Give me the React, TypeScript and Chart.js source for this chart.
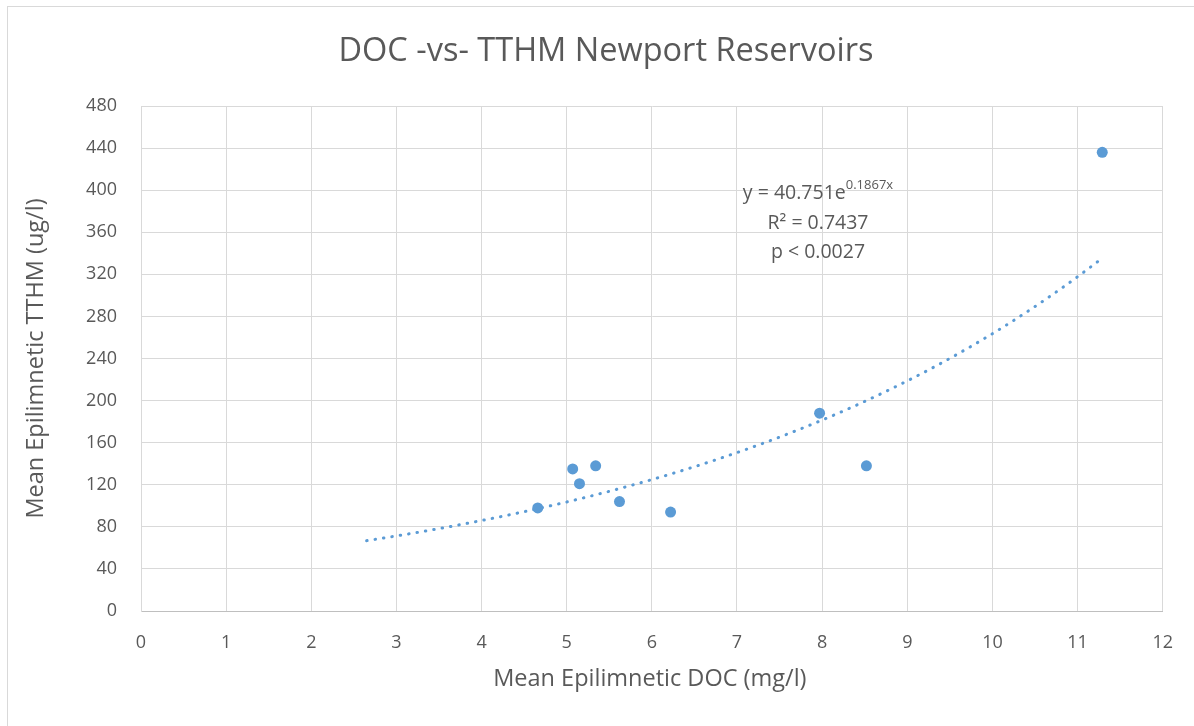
import React, { useEffect, useRef } from 'react';
import { Chart, registerables } from 'chart.js';

Chart.register(...registerables);

// ---- Data ----
const docValues = [4.66, 5.07, 5.15, 5.34, 5.62, 6.22, 7.97, 8.52, 11.29];
const tthmValues = [98, 135, 121, 138, 104, 94, 188, 138, 436];

// Exponential trendline shown on the chart: y = 40.751 e^(0.1867 x)
const trendA = 40.751;
const trendB = 0.1867;
const trendStartX = 2.65;
const trendEndX = 11.29;

const xMin = 0;
const xMax = 12;
const xStep = 1;
const yMin = 0;
const yMax = 480;
const yStep = 40;

const titleText = 'DOC -vs- TTHM Newport Reservoirs';
const xAxisTitle = 'Mean Epilimnetic DOC (mg/l)';
const yAxisTitle = 'Mean Epilimnetic TTHM (ug/l)';
const eqMain = 'y = 40.751e';
const eqSup = '0.1867x';
const r2Text = 'R² = 0.7437';
const pText = 'p < 0.0027';

const FONT = '"Open Sans", "Liberation Sans", sans-serif';
const TEXT_COLOR = '#595959';
const BLUE = '#5b9bd5';

function trendPoints() {
  const pts: { x: number; y: number }[] = [];
  const n = 120;
  for (let i = 0; i <= n; i++) {
    const x = trendStartX + ((trendEndX - trendStartX) * i) / n;
    pts.push({ x, y: trendA * Math.exp(trendB * x) });
  }
  return pts;
}

const decorPlugin = {
  id: 'decor',
  beforeDraw(chart: any) {
    const ctx = chart.ctx;
    ctx.save();
    ctx.fillStyle = '#ffffff';
    ctx.fillRect(0, 0, chart.width, chart.height);
    ctx.strokeStyle = '#d9d9d9';
    ctx.lineWidth = 1;
    ctx.strokeRect(7.5, 6.5, chart.width + 10, chart.height + 10);
    ctx.restore();
  },
  afterDraw(chart: any) {
    const ctx = chart.ctx;
    const xs = chart.scales.x;
    const ys = chart.scales.y;
    ctx.save();
    ctx.fillStyle = TEXT_COLOR;
    ctx.textBaseline = 'middle';
    ctx.textAlign = 'center';
    // Title
    ctx.font = `32.5px ${FONT}`;
    ctx.fillText(titleText, 606, 52);
    // X axis title
    ctx.font = `23.5px ${FONT}`;
    ctx.fillText(xAxisTitle, (xs.left + xs.right) / 2 - 2, 679);
    // Y axis title
    ctx.save();
    ctx.translate(36, (ys.top + ys.bottom) / 2);
    ctx.rotate(-Math.PI / 2);
    ctx.fillText(yAxisTitle, 0, 0);
    ctx.restore();
    // Annotation
    ctx.font = `19.5px ${FONT}`;
    const mainW = ctx.measureText(eqMain).width;
    ctx.font = `13px ${FONT}`;
    const supW = ctx.measureText(eqSup).width;
    const startX = 818 - (mainW + supW) / 2;
    ctx.textAlign = 'left';
    ctx.font = `19.5px ${FONT}`;
    ctx.fillText(eqMain, startX, 193);
    ctx.font = `13px ${FONT}`;
    ctx.fillText(eqSup, startX + mainW, 185);
    ctx.textAlign = 'center';
    ctx.font = `19.5px ${FONT}`;
    ctx.fillText(r2Text, 818, 223);
    ctx.fillText(pText, 818, 252);
    ctx.restore();
  },
};

export default function App() {
  const ref = useRef<HTMLCanvasElement | null>(null);
  useEffect(() => {
    if (!ref.current) return;
    const chart = new Chart(ref.current, {
      type: 'scatter',
      data: {
        datasets: [
          {
            label: 'Trend',
            type: 'line',
            data: trendPoints(),
            borderColor: BLUE,
            borderWidth: 3,
            borderDash: [0.5, 8],
            borderCapStyle: 'round',
            pointRadius: 0,
            fill: false,
            tension: 0,
          } as any,
          {
            label: 'TTHM',
            data: docValues.map((x, i) => ({ x, y: tthmValues[i] })),
            backgroundColor: BLUE,
            borderColor: BLUE,
            pointRadius: 5.5,
            pointBorderWidth: 0,
          },
        ],
      },
      options: {
        animation: false,
        responsive: false,
        maintainAspectRatio: false,
        layout: { padding: { left: 0, right: 29, top: 106, bottom: 0 } },
        plugins: {
          legend: { display: false },
          tooltip: { enabled: false },
          title: { display: false },
        },
        scales: {
          x: {
            type: 'linear',
            min: xMin,
            max: xMax,
            ticks: {
              stepSize: xStep,
              color: TEXT_COLOR,
              font: { family: FONT, size: 18 },
              padding: 21,
            },
            grid: { color: '#d9d9d9', drawTicks: false },
            border: { color: '#bfbfbf' },
            afterFit(scale: any) {
              scale.height = 115;
            },
          },
          y: {
            type: 'linear',
            min: yMin,
            max: yMax,
            ticks: {
              stepSize: yStep,
              color: TEXT_COLOR,
              font: { family: FONT, size: 18 },
              padding: 24,
            },
            grid: { color: '#d9d9d9', drawTicks: false },
            border: { color: '#d9d9d9' },
            afterFit(scale: any) {
              scale.width = 141;
            },
          },
        },
      },
      plugins: [decorPlugin],
    });
    return () => chart.destroy();
  }, []);
  return (
    <div style={{ position: 'fixed', left: 0, top: 0, width: 1194, height: 726 }}>
      <canvas ref={ref} width={1194} height={726} style={{ width: 1194, height: 726 }} />
    </div>
  );
}
